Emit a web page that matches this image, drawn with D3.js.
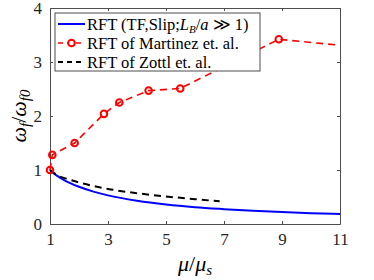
<!DOCTYPE html>
<html>
<head>
<meta charset="utf-8">
<script src="https://cdn.jsdelivr.net/npm/d3@7"></script>
<style>
  * { font-family: 'Liberation Serif'; }
  body { margin: 0; background: #fff; }
  svg { display: block; }
</style>
</head>
<body>
<svg width="374" height="280"></svg>
<script>
// values
const xTicks = [1, 3, 5, 7, 9, 11];
const yTicks = [0, 1, 2, 3, 4];

const rftX = [1, 1.1, 1.25, 1.5, 2, 2.5, 3, 4, 5, 6, 7, 8, 9, 10, 11];
const rftY = [1, 0.95, 0.89, 0.81, 0.69, 0.6, 0.53, 0.43, 0.36, 0.31, 0.275, 0.245, 0.22, 0.2, 0.185];

const martinezX = [1, 1.08, 1.85, 2.86, 3.39, 4.4, 5.49, 8.89, 11];
const martinezY = [1, 1.28, 1.5, 2.04, 2.25, 2.47, 2.51, 3.42, 3.31];

const zottlX = [1, 1.3, 1.5, 2, 3, 4, 5, 6, 6.85];
const zottlY = [1, 0.89, 0.85, 0.77, 0.65, 0.57, 0.51, 0.46, 0.42];

const svg = d3.select('svg');
const margin = {top: 8, right: 34, bottom: 56, left: 50};
const width = +svg.attr('width') - margin.left - margin.right;
const height = +svg.attr('height') - margin.top - margin.bottom;

const x = d3.scaleLinear().domain([1, 11]).range([0, width]);
const y = d3.scaleLinear().domain([0, 4]).range([height, 0]);

const g = svg.append('g').attr('transform', 'translate(' + margin.left + ',' + margin.top + ')');

const axisColor = '#4d4d4d';

// axes, ticks pointing inward on all four sides
const styleAxis = (sel) => {
  sel.attr('font-family', null).attr('font-size', 17);
  sel.select('.domain').attr('stroke', axisColor).attr('stroke-width', 1);
  sel.selectAll('.tick line').attr('stroke', axisColor);
  sel.selectAll('.tick text').attr('fill', '#262626');
};

g.append('g')
    .attr('transform', 'translate(0,' + height + ')')
    .call(d3.axisBottom(x).tickValues(xTicks).tickFormat(d3.format('d')).tickSize(-3).tickPadding(9).tickSizeOuter(0))
    .call(styleAxis);
g.append('g')
    .call(d3.axisLeft(y).tickValues(yTicks).tickFormat(d3.format('d')).tickSize(-3).tickPadding(8).tickSizeOuter(0))
    .call(styleAxis);
g.append('g')
    .call(d3.axisTop(x).tickValues(xTicks).tickSize(-3).tickFormat('').tickSizeOuter(0))
    .call(styleAxis);
g.append('g')
    .attr('transform', 'translate(' + width + ',0)')
    .call(d3.axisRight(y).tickValues(yTicks).tickSize(-3).tickFormat('').tickSizeOuter(0))
    .call(styleAxis);

const line = d3.line()
    .x(d => x(d[0]))
    .y(d => y(d[1]));

// blue solid
g.append('path')
    .datum(d3.zip(rftX, rftY))
    .attr('fill', 'none')
    .attr('stroke', '#0000ff')
    .attr('stroke-width', 2)
    .attr('d', line.curve(d3.curveMonotoneX));

// black dashed
g.append('path')
    .datum(d3.zip(zottlX, zottlY))
    .attr('fill', 'none')
    .attr('stroke', '#000')
    .attr('stroke-width', 2)
    .attr('stroke-dasharray', '7,5')
    .attr('d', line.curve(d3.curveMonotoneX));

// red dashed with circles
const redData = d3.zip(martinezX, martinezY);
g.append('path')
    .datum(redData)
    .attr('fill', 'none')
    .attr('stroke', '#ff0000')
    .attr('stroke-width', 1.6)
    .attr('stroke-dasharray', '7,5')
    .attr('d', line.curve(d3.curveLinear));

g.selectAll('.mk')
    .data(redData.filter(d => d[0] < 11))
  .enter().append('circle')
    .attr('class', 'mk')
    .attr('cx', d => x(d[0]))
    .attr('cy', d => y(d[1]))
    .attr('r', 3.3)
    .attr('fill', 'none')
    .attr('stroke', '#ff0000')
    .attr('stroke-width', 2);

// legend
const legend = g.append('g').attr('transform', 'translate(5,5)');
legend.append('rect')
    .attr('width', 205)
    .attr('height', 58)
    .attr('fill', '#fff')
    .attr('stroke', axisColor)
    .attr('stroke-width', 1);

const rows = [
  {color: '#0000ff', dash: null, marker: false},
  {color: '#ff0000', dash: '5,4', marker: true},
  {color: '#000', dash: '5,4', marker: false}
];
rows.forEach((r, i) => {
  const yy = 11 + i * 19;
  legend.append('line')
      .attr('x1', 3).attr('x2', 30)
      .attr('y1', yy).attr('y2', yy)
      .attr('stroke', r.color)
      .attr('stroke-width', r.color === '#ff0000' ? 1.6 : 2)
      .attr('stroke-dasharray', r.dash);
  if (r.marker) {
    legend.append('circle')
        .attr('cx', 16.5).attr('cy', yy).attr('r', 3.3)
        .attr('fill', '#fff')
        .attr('stroke', r.color).attr('stroke-width', 2);
  }
});

const lt = (i) => legend.append('text')
    .attr('x', 32)
    .attr('y', 11 + i * 19)
    .attr('dy', '0.35em')
    .attr('fill', '#000')
    .attr('font-size', 16.5);

const t0 = lt(0);
t0.append('tspan').text('RFT (TF,Slip;');
t0.append('tspan').attr('font-style', 'italic').text('L');
t0.append('tspan').attr('font-style', 'italic').attr('font-size', 11).attr('dy', '3').text('B');
t0.append('tspan').attr('dy', '-3').text('/');
t0.append('tspan').attr('font-style', 'italic').text('a');
t0.append('tspan').text(' \u226B 1)');
lt(1).text('RFT of Martinez et. al.');
lt(2).text('RFT of Zottl et. al.');

// axis labels
const xl = svg.append('text')
    .attr('x', margin.left + width / 2)
    .attr('y', 271)
    .attr('text-anchor', 'middle')
    .attr('font-size', 22)
    .attr('font-style', 'italic');
xl.append('tspan').text('\u03BC');
xl.append('tspan').attr('font-style', 'normal').text('/');
xl.append('tspan').text('\u03BC');
xl.append('tspan').attr('font-size', 15).attr('dy', '4').text('s');

const yl = svg.append('text')
    .attr('transform', 'translate(26,' + (margin.top + height / 2) + ') rotate(-90)')
    .attr('text-anchor', 'middle')
    .attr('font-size', 22)
    .attr('font-style', 'italic');
yl.append('tspan').text('\u03C9');
yl.append('tspan').attr('font-size', 15).attr('dy', '4').text('f');
yl.append('tspan').attr('font-style', 'normal').attr('dy', '-4').text('/');
yl.append('tspan').text('\u03C9');
yl.append('tspan').attr('font-size', 15).attr('dy', '4').text('f0');
</script>
</body>
</html>
